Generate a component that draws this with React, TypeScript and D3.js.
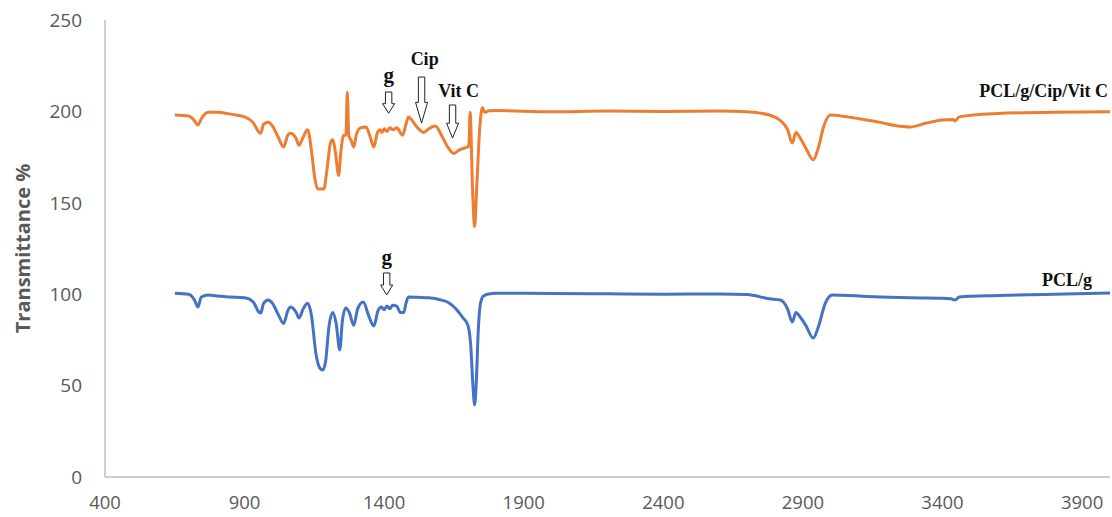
import React from 'react';
import * as d3 from 'd3';

// FTIR spectra
const orangeWave = [650, 700, 720, 733, 745, 770, 800, 850, 900, 930, 950, 958, 968, 985, 1000, 1020, 1040, 1055, 1065, 1085, 1095, 1110, 1126, 1140, 1152, 1162, 1184, 1195, 1208, 1216, 1225, 1237, 1245, 1255, 1263, 1268, 1273, 1282, 1291, 1300, 1315, 1335, 1350, 1363, 1375, 1385, 1392, 1400, 1410, 1420, 1432, 1445, 1466, 1478, 1487, 1500, 1520, 1541, 1560, 1584, 1605, 1630, 1649, 1670, 1690, 1703, 1708, 1716, 1724, 1732, 1742, 1752, 1760, 1775, 1800, 2000, 2200, 2400, 2600, 2700, 2780, 2819, 2845, 2862, 2875, 2890, 2910, 2937, 2955, 2975, 2998, 3050, 3100, 3177, 3230, 3284, 3340, 3400, 3438, 3445, 3460, 3600, 3800, 4000];
const orangeValue = [198, 197.5, 195, 192.5, 196, 199.5, 199.5, 198.5, 197, 194, 189, 188, 193, 194, 192, 186, 180.5, 187, 188, 185, 181.5, 186, 190, 178, 163, 157.5, 157.5, 168, 183, 184.5, 178, 165, 178, 187, 187, 210.5, 187, 184, 180.5, 187, 191, 191.5, 186, 180.5, 188, 190, 188.5, 190.5, 189, 191, 190, 191, 187, 193, 197, 195, 191, 188.5, 190.5, 192, 187, 180, 177, 179, 180, 181, 199.5, 160, 137, 160, 190, 202, 199.5, 200.3, 200.5, 199.8, 200.2, 200, 200.2, 199.8, 198, 195, 190, 182.7, 188.5, 185.5, 180, 173.5, 180, 192, 198, 197.2, 196, 194, 192.3, 191.5, 193.5, 195.3, 195.6, 194.8, 197, 198.8, 199.6, 199.8];

const blueWave = [650, 700, 720, 733, 745, 770, 800, 850, 900, 930, 950, 958, 968, 985, 1000, 1020, 1040, 1055, 1065, 1085, 1095, 1110, 1126, 1140, 1155, 1170, 1180, 1190, 1202, 1216, 1228, 1241, 1250, 1262, 1275, 1291, 1305, 1325, 1345, 1363, 1378, 1390, 1400, 1410, 1420, 1430, 1445, 1458, 1470, 1478, 1487, 1520, 1560, 1600, 1630, 1660, 1680, 1700, 1710, 1718, 1724, 1730, 1737, 1745, 1755, 1770, 1800, 2000, 2200, 2400, 2600, 2700, 2780, 2819, 2845, 2862, 2875, 2890, 2910, 2937, 2955, 2980, 3005, 3100, 3177, 3284, 3400, 3430, 3445, 3460, 3600, 3800, 4000];
const blueValue = [100.5, 100, 97, 93, 98.5, 99.6, 99, 98.5, 98, 96, 90.5, 89.7, 95, 96.8, 95, 89, 84, 91, 93, 90, 87, 92, 95, 88, 68, 59.5, 58.5, 63, 82, 90, 84, 69.5, 85, 92.5, 90, 83, 92, 95.7, 88, 82.6, 91, 93, 91.5, 93.5, 92, 94, 93.5, 90, 90, 95, 98.5, 98.3, 98, 97, 95.5, 91.5, 87.5, 83, 72, 50, 39.5, 52, 80, 95, 99, 100, 100.5, 100.4, 100.2, 100, 100.1, 99.8, 97.5, 96.8, 92, 84.8, 90, 87.5, 83, 76, 82, 95, 99.6, 99, 98.5, 98, 97.8, 97.5, 96.8, 98.5, 99.3, 100, 100.6];

const xTicks = [400, 900, 1400, 1900, 2400, 2900, 3400, 3900];
const yTicks = [0, 50, 100, 150, 200, 250];

// arrow annotations: label, wavenumber, arrow top/bottom value, label baseline value
const noteLabel = ['g', 'Cip', 'Vit C', 'g'];
const noteWave = [1416, 1534, 1645, 1409];
const noteLabelWave = [1416, 1545, 1667, 1409];
const noteTop = [210.6, 218.8, 203.5, 111.6];
const noteBottom = [199, 193.6, 185.4, 99.6];
const noteLabelValue = [216, 225.4, 208, 116.5];
const noteFontSize = [21, 18, 18, 21];

const seriesNames = ['PCL/g/Cip/Vit C', 'PCL/g'];
const seriesLabelWave = [3993, 3936];
const seriesLabelValue = [208, 104.5];
const seriesColors = ['#ED7D31', '#4472C4'];

const W = 1112;
const H = 517;

export default function App() {
  const x = d3.scaleLinear().domain([400, 4000]).range([105, 1110]);
  const y = d3.scaleLinear().domain([0, 250]).range([477, 20]);

  const line = d3
    .line<[number, number]>()
    .x(d => x(d[0]))
    .y(d => y(d[1]))
    .curve(d3.curveMonotoneX);

  const orange = orangeWave.map((w, i) => [w, orangeValue[i]] as [number, number]);
  const blue = blueWave.map((w, i) => [w, blueValue[i]] as [number, number]);

  const arrowPath = (i: number) => {
    const cx = x(noteWave[i]);
    const top = y(noteTop[i]);
    const bot = y(noteBottom[i]);
    const head = (bot - top) * 0.45;
    const sw = 3.2;
    const hw = 6;
    return `M${cx - sw},${top} L${cx + sw},${top} L${cx + sw},${bot - head} L${cx + hw},${bot - head} L${cx},${bot} L${cx - hw},${bot - head} L${cx - sw},${bot - head} Z`;
  };

  const tickFont = '"Open Sans", "Liberation Sans", sans-serif';
  const serif = '"Liberation Serif", "Times New Roman", serif';

  return (
    <svg width={W} height={H} style={{ position: 'absolute', left: 0, top: 0, background: '#fff' }}>
      {/* axes */}
      <line x1={x(400)} x2={x(400)} y1={y(250)} y2={y(0)} stroke="#bfbfbf" strokeWidth={1.5} />
      <line x1={x(400)} x2={x(4000)} y1={y(0)} y2={y(0)} stroke="#bfbfbf" strokeWidth={1.5} />

      {yTicks.map(t => (
        <text key={t} x={82} y={y(t)} dy="0.36em" textAnchor="end" fontFamily={tickFont} fontSize={19} fill="#595959">
          {t}
        </text>
      ))}
      {xTicks.map(t => (
        <text key={t} x={x(t)} y={509} textAnchor="middle" fontFamily={tickFont} fontSize={18.5} fill="#595959">
          {t}
        </text>
      ))}

      <text
        transform={`translate(30,${(y(0) + y(250)) / 2}) rotate(-90)`}
        textAnchor="middle"
        fontFamily={tickFont}
        fontWeight="bold"
        fontSize={20}
        fill="#595959"
      >
        Transmittance %
      </text>

      {/* spectra */}
      <path d={line(orange) ?? ''} fill="none" stroke={seriesColors[0]} strokeWidth={3} strokeLinejoin="round" />
      <path d={line(blue) ?? ''} fill="none" stroke={seriesColors[1]} strokeWidth={3} strokeLinejoin="round" />

      {/* arrows */}
      {noteLabel.map((lab, i) => (
        <g key={i}>
          <path d={arrowPath(i)} fill="#fff" stroke="#222" strokeWidth={1} />
          <text
            x={x(noteLabelWave[i])}
            y={y(noteLabelValue[i])}
            textAnchor="middle"
            fontFamily={serif}
            fontWeight="bold"
            fontSize={noteFontSize[i]}
            fill="#111"
          >
            {lab}
          </text>
        </g>
      ))}

      {seriesNames.map((n, i) => (
        <text
          key={n}
          x={x(seriesLabelWave[i])}
          y={y(seriesLabelValue[i])}
          textAnchor="end"
          fontFamily={serif}
          fontWeight="bold"
          fontSize={18}
          fill="#111"
        >
          {n}
        </text>
      ))}
    </svg>
  );
}
